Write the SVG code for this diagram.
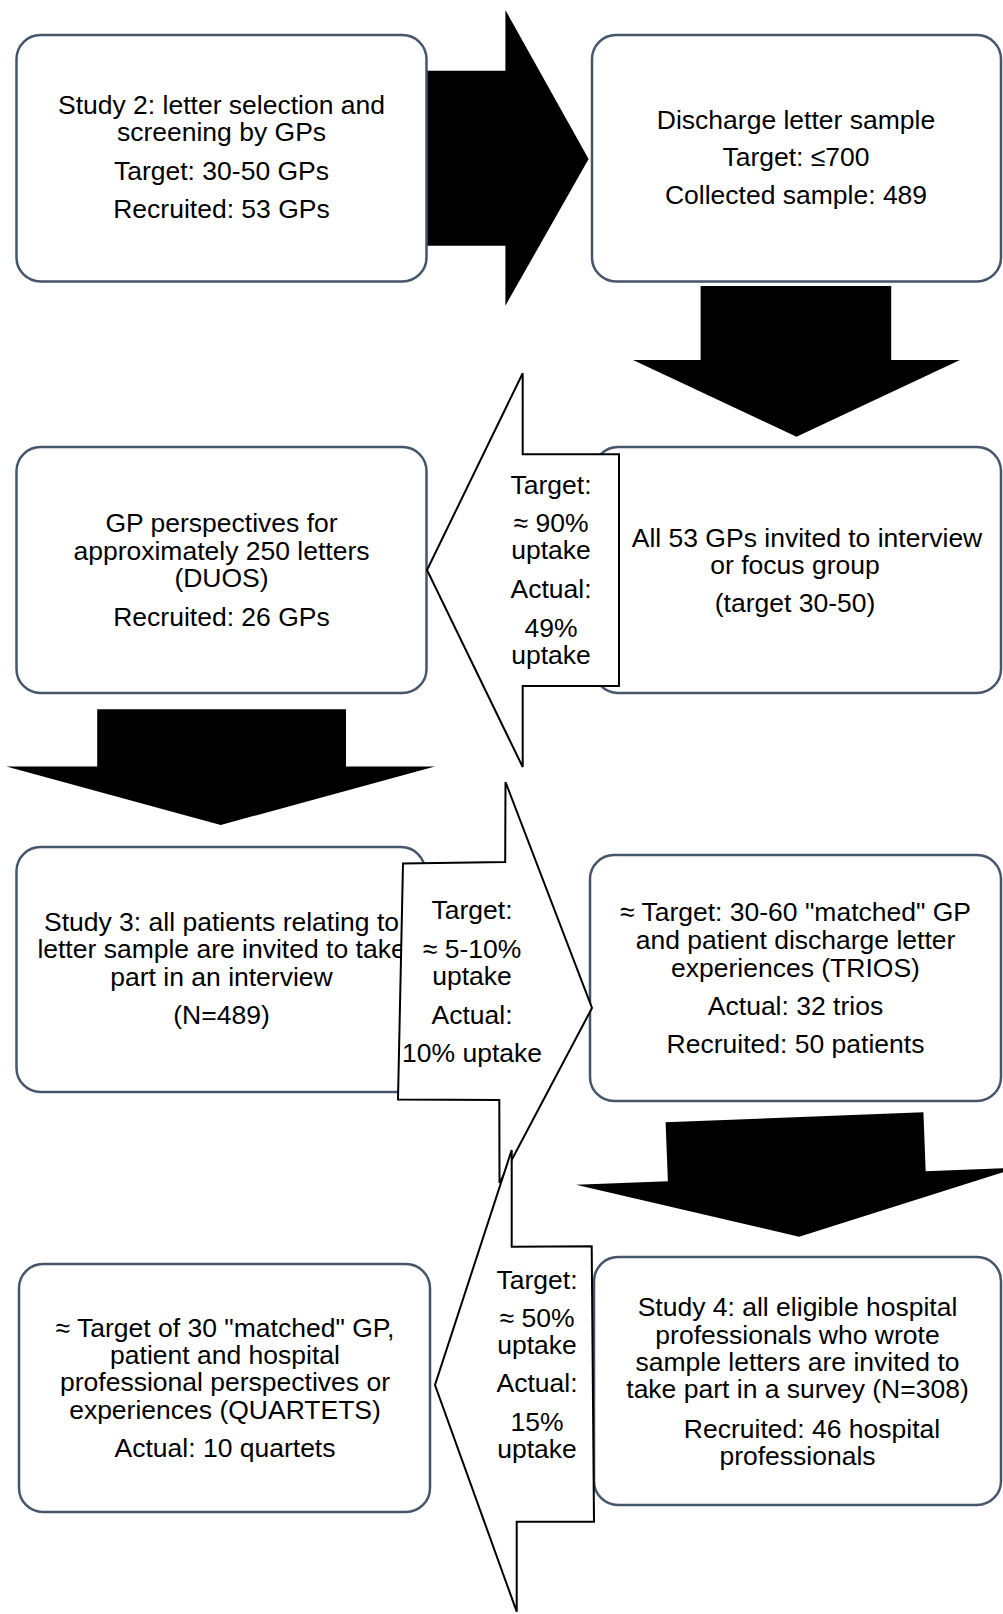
<svg xmlns="http://www.w3.org/2000/svg" width="1003" height="1614" viewBox="0 0 1003 1614">
<style>
.bg{fill:#fff}
.box{fill:#fff;stroke:#465569;stroke-width:2.5}
.blk{fill:#000;stroke:none}
.co{fill:#fff;stroke:#000;stroke-width:2;stroke-linejoin:miter}
text{font-family:"Liberation Sans",Arial,sans-serif;font-size:26.5px;fill:#000;text-anchor:middle}
</style>
<rect class="bg" x="0" y="0" width="1003" height="1614"/>
<g id="connectors">
<polygon class="blk" points="424,70.7 505.4,70.7 505.4,10 588.6,159 505.4,305.7 505.4,245.7 424,245.7"/>
<polygon class="blk" points="700.6,286 891.2,286 891.2,360 960,360 796.5,436.7 633,360 700.6,360"/>
<polygon class="blk" points="97.2,709.3 346,709.3 346,766.5 435,766.5 220.7,825 6.4,766.5 97.2,766.5"/>
<polygon class="blk" transform="translate(794.5,1117.3) rotate(-2.22)" points="-129,0 129,0 129,59 221,59 0,119.5 -221,59 -129,59"/>
</g>
<g id="node-study2">
<rect class="box" x="16.5" y="35" width="410" height="246.5" rx="24"/>
<text x="221.5" y="114">Study 2: letter selection and</text>
<text x="221.5" y="141">screening by GPs</text>
<text x="221.5" y="180">Target: 30-50 GPs</text>
<text x="221.5" y="218">Recruited: 53 GPs</text>
</g>
<g id="node-discharge-sample">
<rect class="box" x="592" y="35" width="409" height="246.5" rx="24"/>
<text x="796" y="128.5">Discharge letter sample</text>
<text x="796" y="166">Target: ≤700</text>
<text x="796" y="204">Collected sample: 489</text>
</g>
<g id="node-gp-perspectives">
<rect class="box" x="16.5" y="447" width="410" height="246" rx="24"/>
<text x="221.5" y="532">GP perspectives for</text>
<text x="221.5" y="559.5">approximately 250 letters</text>
<text x="221.5" y="587">(DUOS)</text>
<text x="221.5" y="626">Recruited: 26 GPs</text>
</g>
<g id="node-all-gps">
<rect class="box" x="594" y="447" width="407" height="246" rx="24"/>
<text x="807" y="546.5">All 53 GPs invited to interview</text>
<text x="795" y="574">or focus group</text>
<text x="795" y="612">(target 30-50)</text>
</g>
<g id="node-study3">
<rect class="box" x="16.5" y="847" width="408.5" height="245" rx="24"/>
<text x="221.5" y="931">Study 3: all patients relating to</text>
<text x="221.5" y="958">letter sample are invited to take</text>
<text x="221.5" y="985.5">part in an interview</text>
<text x="221.5" y="1023.5">(N=489)</text>
</g>
<g id="node-trios">
<rect class="box" x="590" y="855" width="411" height="246" rx="24"/>
<text x="795.5" y="921">≈ Target: 30-60 "matched" GP</text>
<text x="795.5" y="949">and patient discharge letter</text>
<text x="795.5" y="977">experiences (TRIOS)</text>
<text x="795.5" y="1014.5">Actual: 32 trios</text>
<text x="795.5" y="1053">Recruited: 50 patients</text>
</g>
<g id="node-study4">
<rect class="box" x="594" y="1257" width="407" height="248" rx="24"/>
<text x="797.5" y="1316">Study 4: all eligible hospital</text>
<text x="797.5" y="1343.5">professionals who wrote</text>
<text x="797.5" y="1370.5">sample letters are invited to</text>
<text x="797.5" y="1398">take part in a survey (N=308)</text>
<text x="812" y="1437.5">Recruited: 46 hospital</text>
<text x="797.5" y="1464.5">professionals</text>
</g>
<g id="node-quartets">
<rect class="box" x="19" y="1264" width="411" height="248" rx="24"/>
<text x="225" y="1336.5">≈ Target of 30 "matched" GP,</text>
<text x="225" y="1363.5">patient and hospital</text>
<text x="225" y="1391">professional perspectives or</text>
<text x="225" y="1418.5">experiences (QUARTETS)</text>
<text x="225" y="1456.8">Actual: 10 quartets</text>
</g>
<g id="connector-callouts">
<g id="callout-1">
<polygon class="co" points="522.7,373.3 522.7,454.3 619,454.3 619,686 522.7,686 522.7,767 427,570"/>
<text x="551" y="493.5">Target:</text>
<text x="551" y="531.5">≈ 90%</text>
<text x="551" y="558.5">uptake</text>
<text x="551" y="598">Actual:</text>
<text x="551" y="636.5">49%</text>
<text x="551" y="663.5">uptake</text>
</g>
<g id="callout-2">
<polygon class="co" points="505.5,782 505.2,862 403,863.5 398,1099.5 499.3,1100 499.5,1183 592,1008"/>
<text x="472" y="918.5">Target:</text>
<text x="472" y="958">≈ 5-10%</text>
<text x="472" y="985">uptake</text>
<text x="472" y="1023.5">Actual:</text>
<text x="472" y="1062">10% uptake</text>
</g>
<g id="callout-3">
<polygon class="co" points="511.7,1150 511.7,1246.7 591.7,1246.3 594,1521.7 516.7,1521.7 516.7,1611.7 435,1385"/>
<text x="537" y="1288.5">Target:</text>
<text x="537" y="1327">≈ 50%</text>
<text x="537" y="1354">uptake</text>
<text x="537" y="1392">Actual:</text>
<text x="537" y="1430.5">15%</text>
<text x="537" y="1457.5">uptake</text>
</g>
</g>
</svg>
